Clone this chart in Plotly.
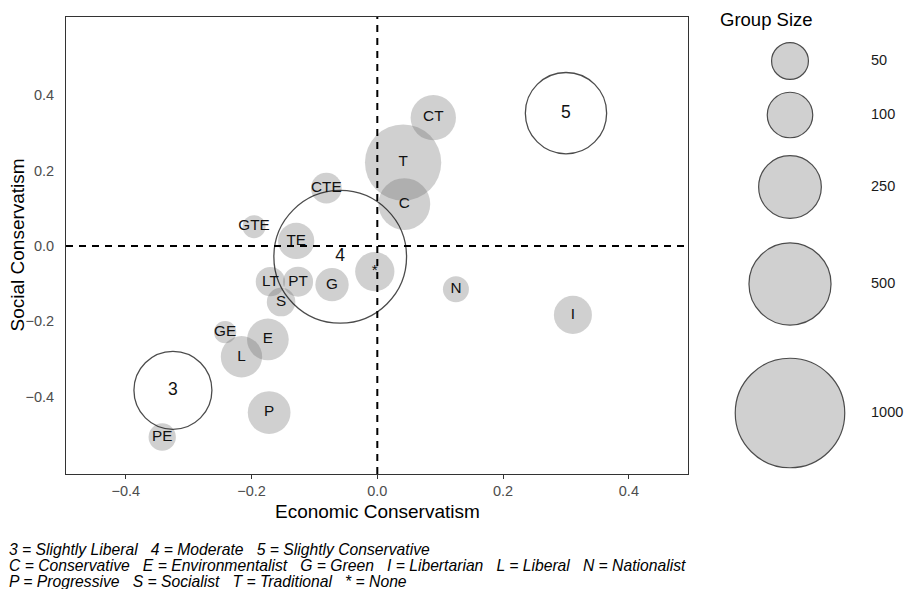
import numpy as np
import plotly.graph_objects as go

# Interest groups: position on the two conservatism scales and group size
group_labels = ["CT", "T", "C", "CTE", "GTE", "TE", "LT", "PT", "G", "*",
                "S", "GE", "E", "L", "P", "PE", "N", "I"]
group_econ = [0.089, 0.041, 0.043, -0.081, -0.196, -0.129, -0.170, -0.126, -0.072, -0.004,
              -0.153, -0.242, -0.174, -0.216, -0.172, -0.342, 0.125, 0.311]
group_social = [0.340, 0.221, 0.111, 0.153, 0.051, 0.013, -0.095, -0.095, -0.103, -0.068,
                -0.149, -0.229, -0.248, -0.294, -0.442, -0.507, -0.115, -0.183]
group_size = [91, 400, 137, 21, 4, 42, 17, 19, 30, 56,
              15, 3, 69, 67, 75, 12, 9, 50]

# Self-placed ideology groups (drawn as open circles)
ideo_labels = ["3", "4", "5"]
ideo_econ = [-0.325, -0.059, 0.300]
ideo_social = [-0.383, -0.029, 0.352]
ideo_size = [423, 1525, 470]

# Size legend
legend_sizes = [50, 100, 250, 500, 1000]
legend_labels = ["50", "100", "250", "500", "1000"]

# Axis ticks
x_ticks = [-0.4, -0.2, 0.0, 0.2, 0.4]
x_tick_labels = ["\u22120.4", "\u22120.2", "0.0", "0.2", "0.4"]
y_ticks = [-0.4, -0.2, 0.0, 0.2, 0.4]
y_tick_labels = ["\u22120.4", "\u22120.2", "0.0", "0.2", "0.4"]

FONT = "Liberation Sans, Arial, sans-serif"


def diameter(n):
    """Size scale: marker diameter (px) grows with the square root of group size."""
    return 17.1 + 2.96 * np.sqrt(np.asarray(n, dtype=float))


fig = go.Figure()

fig.add_trace(go.Scatter(
    x=group_econ, y=group_social, mode="markers",
    marker=dict(size=diameter(group_size), color="rgba(100,100,100,0.43)",
                line=dict(width=0)),
    hoverinfo="skip", showlegend=False))

fig.add_trace(go.Scatter(
    x=ideo_econ, y=ideo_social, mode="markers",
    marker=dict(size=diameter(ideo_size), color="rgba(0,0,0,0)",
                line=dict(width=1.3, color="black")),
    hoverinfo="skip", showlegend=False))

fig.add_trace(go.Scatter(
    x=group_econ, y=group_social, mode="text", text=group_labels,
    textposition="middle center",
    textfont=dict(family=FONT, size=15.3, color="#111111"),
    hoverinfo="skip", showlegend=False))

fig.add_trace(go.Scatter(
    x=ideo_econ, y=ideo_social, mode="text", text=ideo_labels,
    textposition="middle center",
    textfont=dict(family=FONT, size=17.5, color="#111111"),
    hoverinfo="skip", showlegend=False))

# Size legend on its own pixel-scaled axes to the right of the panel
legend_rows = [61, 115, 187, 284, 413]
legend_x = [790] * len(legend_sizes)
fig.add_trace(go.Scatter(
    x=legend_x, y=legend_rows, mode="markers", xaxis="x2", yaxis="y2",
    marker=dict(size=diameter(legend_sizes) - 1.2, color="#bdbdbd",
                line=dict(width=1.2, color="black")),
    hoverinfo="skip", showlegend=False))
fig.add_trace(go.Scatter(
    x=[871] * len(legend_sizes), y=legend_rows, mode="text", text=legend_labels,
    textposition="middle right", xaxis="x2", yaxis="y2",
    textfont=dict(family=FONT, size=14.5, color="#1a1a1a"),
    hoverinfo="skip", showlegend=False))

L, R, T, B = 66, 5, 17, 115
W, H = 913, 589
pw, ph = W - L - R, H - T - B


def px_x(p):
    return (p - L) / pw


def px_y(p):
    return (H - B - p) / ph


annotations = [
    dict(text="Group Size", xref="paper", yref="paper", x=px_x(718), y=px_y(19),
         xanchor="left", yanchor="middle", showarrow=False,
         font=dict(family=FONT, size=18.5, color="black")),
    dict(text="Economic Conservatism", xref="x domain", yref="paper", x=0.5, y=px_y(511.5),
         xanchor="center", yanchor="middle", showarrow=False,
         font=dict(family=FONT, size=19, color="black")),
    dict(text="Social Conservatism", xref="paper", yref="y domain", x=px_x(17), y=0.5,
         xanchor="center", yanchor="middle", textangle=-90, showarrow=False,
         font=dict(family=FONT, size=19, color="black")),
]

notes = [
    "3 = Slightly Liberal   4 = Moderate   5 = Slightly Conservative",
    "C = Conservative   E = Environmentalist   G = Green   I = Libertarian   L = Liberal   N = Nationalist",
    "P = Progressive   S = Socialist   T = Traditional   * = None",
]
for i, line in enumerate(notes):
    annotations.append(dict(
        text="<i>" + line.replace("   ", "\u00a0\u00a0\u00a0") + "</i>",
        xref="paper", yref="paper", x=px_x(7), y=px_y(549 + 16 * i),
        xanchor="left", yanchor="middle", showarrow=False,
        font=dict(family=FONT, size=15.7, color="black")))

shapes = [
    dict(type="line", xref="x", yref="y domain", x0=0, x1=0, y0=0, y1=1,
         line=dict(color="black", width=2, dash="7px,6px"), layer="above"),
    dict(type="line", xref="x domain", yref="y", x0=0, x1=1, y0=0, y1=0,
         line=dict(color="black", width=2, dash="7px,6px"), layer="above"),
]

fig.update_layout(
    width=W, height=H,
    margin=dict(l=L, r=R, t=T, b=B, pad=0),
    paper_bgcolor="white", plot_bgcolor="white",
    font=dict(family=FONT),
    xaxis=dict(domain=[0, px_x(688)], range=[-0.495, 0.494],
               tickvals=x_ticks, ticktext=x_tick_labels,
               ticks="outside", ticklen=4, tickwidth=1, tickcolor="#333333",
               tickfont=dict(family=FONT, size=14.5, color="#4d4d4d"),
               showgrid=False, zeroline=False,
               showline=True, linecolor="#333333", linewidth=1.1, mirror=True),
    yaxis=dict(domain=[0, 1], range=[-0.605, 0.607],
               tickvals=y_ticks, ticktext=y_tick_labels,
               ticks="", ticklabelstandoff=8,
               tickfont=dict(family=FONT, size=14.5, color="#4d4d4d"),
               showgrid=False, zeroline=False,
               showline=True, linecolor="#333333", linewidth=1.1, mirror=True),
    xaxis2=dict(domain=[px_x(700), 1], range=[700, 908], visible=False, fixedrange=True),
    yaxis2=dict(domain=[0, 1], range=[474, 17], visible=False, fixedrange=True,
                anchor="x2"),
    annotations=annotations,
    shapes=shapes,
)

fig.write_html("out.html")
